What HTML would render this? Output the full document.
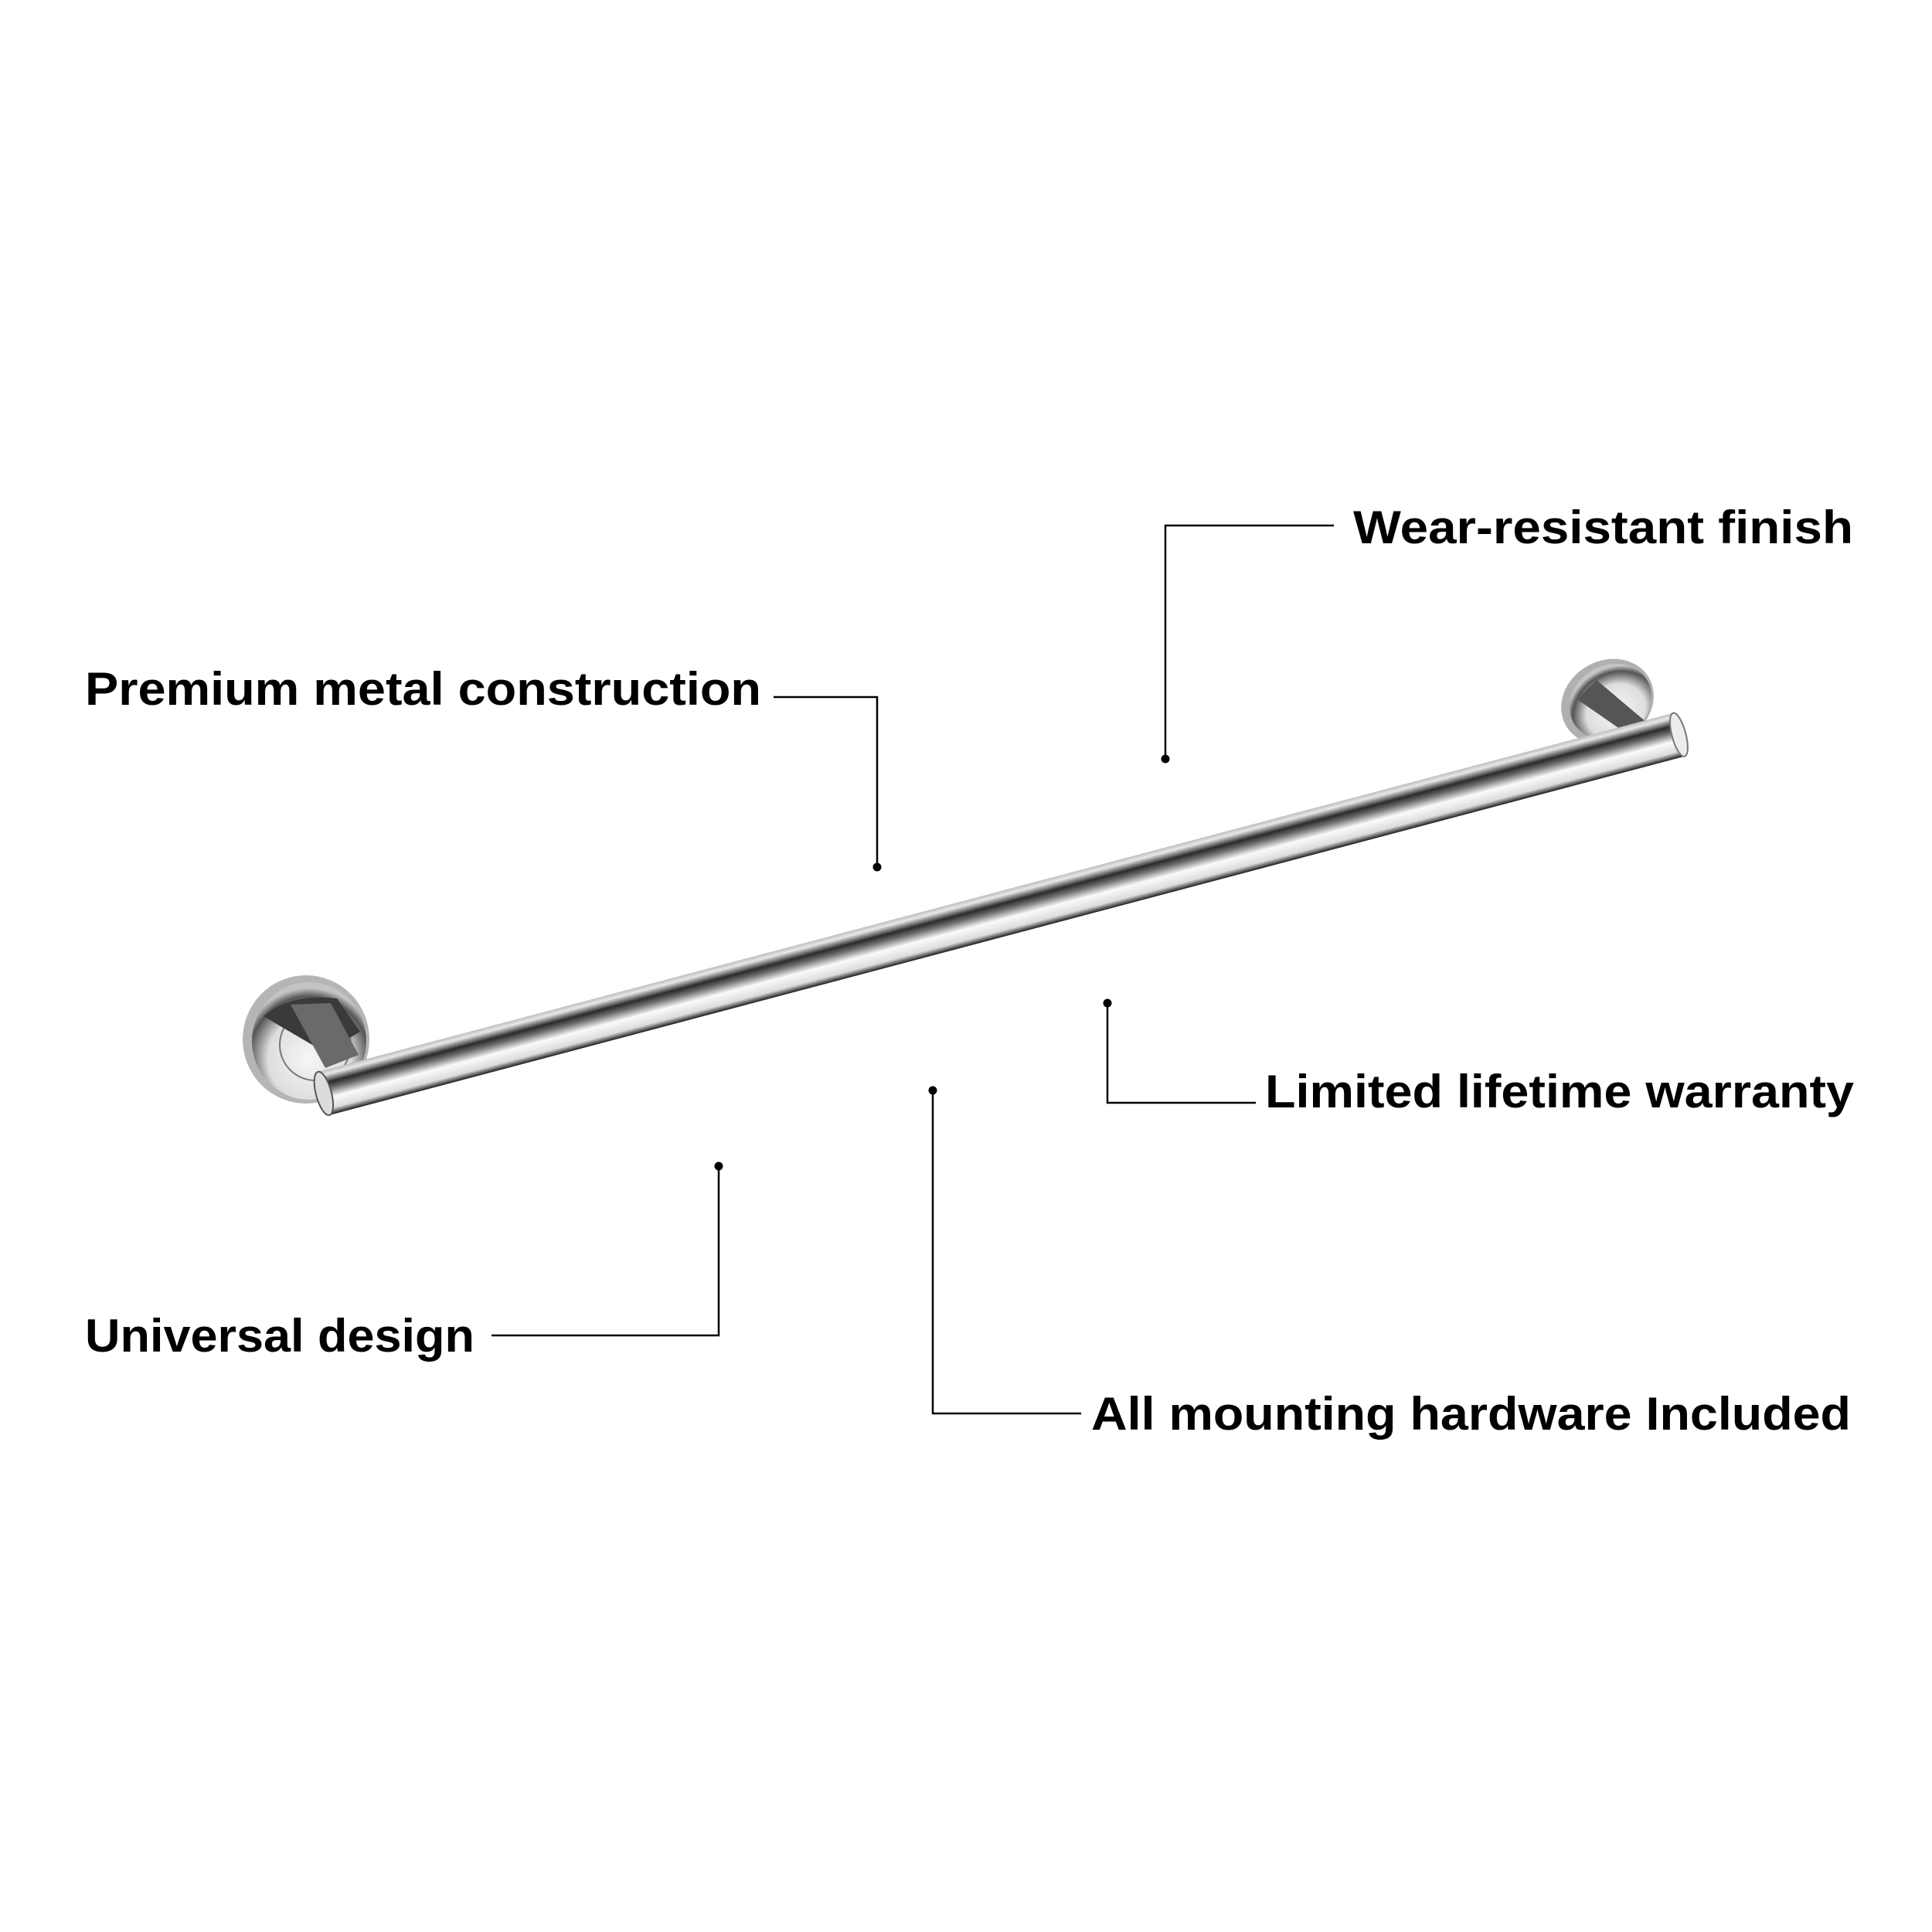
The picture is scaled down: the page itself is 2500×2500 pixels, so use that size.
<!DOCTYPE html>
<html><head><meta charset="utf-8"><style>html,body{margin:0;padding:0;background:#fff}svg{display:block}</style></head>
<body>
<svg width="2500" height="2500" viewBox="0 0 2500 2500" xmlns="http://www.w3.org/2000/svg">
<defs>
<linearGradient id="bar" x1="0" y1="0" x2="0" y2="1">
<stop offset="0" stop-color="#bdbdbd"/>
<stop offset="0.1" stop-color="#e8e8e8"/>
<stop offset="0.28" stop-color="#2a2a2a"/>
<stop offset="0.42" stop-color="#707070"/>
<stop offset="0.62" stop-color="#fafafa"/>
<stop offset="0.86" stop-color="#dcdcdc"/>
<stop offset="1" stop-color="#1a1a1a"/>
</linearGradient>
<radialGradient id="ros" cx="0.5" cy="0.65" r="0.6">
<stop offset="0" stop-color="#f6f6f6"/>
<stop offset="0.6" stop-color="#dedede"/>
<stop offset="0.88" stop-color="#555"/>
<stop offset="1" stop-color="#c4c4c4"/>
</radialGradient>
</defs>
<rect width="2500" height="2500" fill="#fff"/>

<g transform="translate(-4,0)">
<!-- left rosette -->
<ellipse cx="400" cy="1345" rx="82" ry="83" fill="#b5b5b5"/>
<ellipse cx="404" cy="1347" rx="74" ry="76" fill="url(#ros)"/>
<ellipse cx="412" cy="1352" rx="46" ry="46" fill="none" stroke="#777" stroke-width="2"/>
<path d="M345 1315 Q380 1285 440 1292 L470 1335 L425 1362 Z" fill="#3a3a3a"/>
<path d="M380 1300 L432 1298 L468 1365 L425 1382 Z" fill="#6a6a6a"/>

<!-- right rosette -->
<ellipse cx="2084" cy="908" rx="62" ry="53" fill="#b0b0b0" transform="rotate(-30 2084 908)"/>
<ellipse cx="2088" cy="908" rx="55" ry="47" fill="url(#ros)" transform="rotate(-30 2088 908)"/>
<path d="M2045 905 L2070 880 L2135 935 L2110 950 Z" fill="#555"/>

<!-- bar -->
<g transform="translate(419,1416) rotate(-14.83)">
<rect x="0" y="-29" width="1822" height="58" rx="8" fill="url(#bar)"/>
<ellipse cx="4" cy="0" rx="10" ry="29" fill="#dcdcdc" stroke="#555" stroke-width="2"/>
<ellipse cx="1818" cy="0" rx="9" ry="29" fill="#ececec" stroke="#777" stroke-width="2"/>
</g>

<!-- connectors -->
<g stroke="#000" stroke-width="2.5" fill="none">
<polyline points="1730,680 1512,680 1512,982"/>
<polyline points="1005,902 1139,902 1139,1122"/>
<polyline points="1437,1298 1437,1427 1629,1427"/>
<polyline points="934,1509 934,1728 640,1728"/>
<polyline points="1211,1411 1211,1829 1403,1829"/>
</g>
<g fill="#000">
<circle cx="1512" cy="982" r="5.5"/>
<circle cx="1139" cy="1122" r="5.5"/>
<circle cx="1437" cy="1298" r="5.5"/>
<circle cx="934" cy="1509" r="5.5"/>
<circle cx="1211" cy="1411" r="5.5"/>
</g>

<!-- labels -->
<g font-family="Liberation Sans, sans-serif" font-weight="bold" font-size="60" fill="#000">
<text x="1755" y="703" textLength="647" lengthAdjust="spacingAndGlyphs">Wear-resistant finish</text>
<text x="114" y="912" textLength="875" lengthAdjust="spacingAndGlyphs">Premium metal construction</text>
<text x="1641" y="1433" textLength="762" lengthAdjust="spacingAndGlyphs">Limited lifetime warranty</text>
<text x="114" y="1749" textLength="504" lengthAdjust="spacingAndGlyphs">Universal design</text>
<text x="1416" y="1850" textLength="983" lengthAdjust="spacingAndGlyphs">All mounting hardware Included</text>
</g>
</g>
</svg>
</body></html>
